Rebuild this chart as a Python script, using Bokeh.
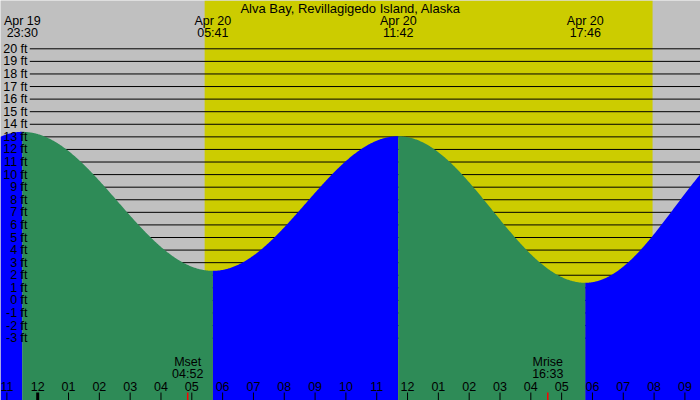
import numpy as np
from bokeh.plotting import figure
from bokeh.models import Range1d, ColumnDataSource, Label
from bokeh.core.properties import value
from bokeh.embed import file_html
from bokeh.resources import INLINE

# ---------------- data ----------------
title = "Alva Bay, Revillagigedo Island, Alaska"

# labelled tide extremes (high, low, high, low)
tide_dates = ["Apr 19", "Apr 20", "Apr 20", "Apr 20"]
tide_times = ["23:30", "05:41", "11:42", "17:46"]
tide_heights = [13.4, 2.35, 13.05, 1.4]          # ft

# unlabelled extremes just outside the view (previous low, next high)
prev_extreme = ("Apr 19", "17:20", 1.2)
next_extreme = ("Apr 20", "23:36", 13.5)

sun_times = ["05:25", "19:57"]                    # sunrise, sunset (Apr 20)

moon_events = ["Mset", "Mrise"]
moon_times = ["04:52", "16:33"]

ft_levels = [20, 19, 18, 17, 16, 15, 14, 13, 12, 11, 10, 9, 8, 7, 6, 5, 4, 3, 2, 1, 0, -1, -2, -3]
hour_labels = ["11", "12", "01", "02", "03", "04", "05", "06", "07", "08", "09", "10",
               "11", "12", "01", "02", "03", "04", "05", "06", "07", "08", "09"]
first_hour = -1   # hour (relative to Apr 20 00:00) of the first hour label

# ---------------- geometry ----------------
W, H = 700, 400
PX_PER_H = 30.82
MIDNIGHT_PX = 37.2
PX_PER_FT = 12.58
FT20_PX = 48.3


def hx(px):
    return (px - MIDNIGHT_PX) / PX_PER_H


def fy(py):
    return 20 - (py - FT20_PX) / PX_PER_FT


def to_hours(date, hhmm):
    day = -24 if date == "Apr 19" else 0
    hh, mm = hhmm.split(":")
    return day + int(hh) + int(mm) / 60.0


X0, X1 = hx(0), hx(W)
YB, YT = fy(H), fy(0)

FONT = "Liberation Sans"
FS = "12.5px"
BG = "#C0C0C0"
DAY = "#CCCC00"
RISE = "#0000FF"
FALL = "#2E8B57"

p = figure(width=W, height=H, x_range=Range1d(X0, X1), y_range=Range1d(YB, YT),
           min_border=0, toolbar_location=None, output_backend="svg",
           x_axis_type=None, y_axis_type=None,
           background_fill_color=BG, border_fill_color=BG, outline_line_color=None)
p.xgrid.visible = False
p.ygrid.visible = False

# daylight
sunrise = to_hours("Apr 20", sun_times[0])
sunset = to_hours("Apr 20", sun_times[1])
p.quad(left=[sunrise], right=[sunset], bottom=[YB], top=[YT], fill_color=DAY, line_color=None)

# grid lines
p.segment(x0=[hx(29.3)] * len(ft_levels), x1=[X1] * len(ft_levels), y0=ft_levels, y1=ft_levels,
          line_color="black", line_width=1)

# tide curve
ext_t = [to_hours(prev_extreme[0], prev_extreme[1])] + \
        [to_hours(d, t) for d, t in zip(tide_dates, tide_times)] + \
        [to_hours(next_extreme[0], next_extreme[1])]
ext_h = [prev_extreme[2]] + tide_heights + [next_extreme[2]]

for i in range(len(ext_t) - 1):
    a, b = ext_t[i], ext_t[i + 1]
    lo, hi = max(a, X0), min(b, X1)
    if hi <= lo:
        continue
    t = np.linspace(lo, hi, 300)
    frac = (t - a) / (b - a)
    h = ext_h[i] + (ext_h[i + 1] - ext_h[i]) * (1 - np.cos(np.pi * frac)) / 2
    color = RISE if ext_h[i + 1] > ext_h[i] else FALL
    p.varea(x=t, y1=h, y2=np.full_like(t, YB), fill_color=color)

# y labels
ysrc = ColumnDataSource(dict(x=[hx(27)] * len(ft_levels), y=ft_levels,
                             t=[f"{v} ft" for v in ft_levels]))
p.text(x="x", y="y", text="t", source=ysrc, text_align="right", text_baseline="middle",
       text_font=value(FONT), text_font_size=FS, text_color="black")

# hour ticks and labels
hours = [first_hour + i for i in range(len(hour_labels))]
hsrc = ColumnDataSource(dict(x=hours, y=[fy(385.7)] * len(hours), t=hour_labels))
p.text(x="x", y="y", text="t", source=hsrc, text_align="center", text_baseline="middle",
       text_font=value(FONT), text_font_size=FS, text_color="black")
thin = [h for h in hours if h != 0]
p.segment(x0=thin, x1=thin, y0=[fy(392)] * len(thin), y1=[YB] * len(thin),
          line_color="black", line_width=1)
p.segment(x0=[0], x1=[0], y0=[fy(392)], y1=[YB], line_color="black", line_width=3)

# moon events
for ev, tm in zip(moon_events, moon_times):
    mx = to_hours("Apr 20", tm)
    p.segment(x0=[mx], x1=[mx], y0=[fy(392)], y1=[YB], line_color="red", line_width=1.5)
    for txt, py in ((ev, 361.7), (tm, 373.3)):
        p.add_layout(Label(x=mx, y=fy(py), text=txt, text_align="center", text_baseline="middle",
                           text_font=FONT, text_font_size=FS, text_color="black"))

# tide labels at top
for d, tm in zip(tide_dates, tide_times):
    tx = to_hours(d, tm)
    for txt, py in ((d, 20.0), (tm, 32.0)):
        p.add_layout(Label(x=tx, y=fy(py), text=txt, text_align="center", text_baseline="middle",
                           text_font=FONT, text_font_size=FS, text_color="black"))

# title
p.add_layout(Label(x=hx(350), y=fy(7.5), text=title, text_align="center", text_baseline="middle",
                   text_font=FONT, text_font_size="13px", text_color="black"))

open("out.html", "w").write(file_html(p, INLINE))
